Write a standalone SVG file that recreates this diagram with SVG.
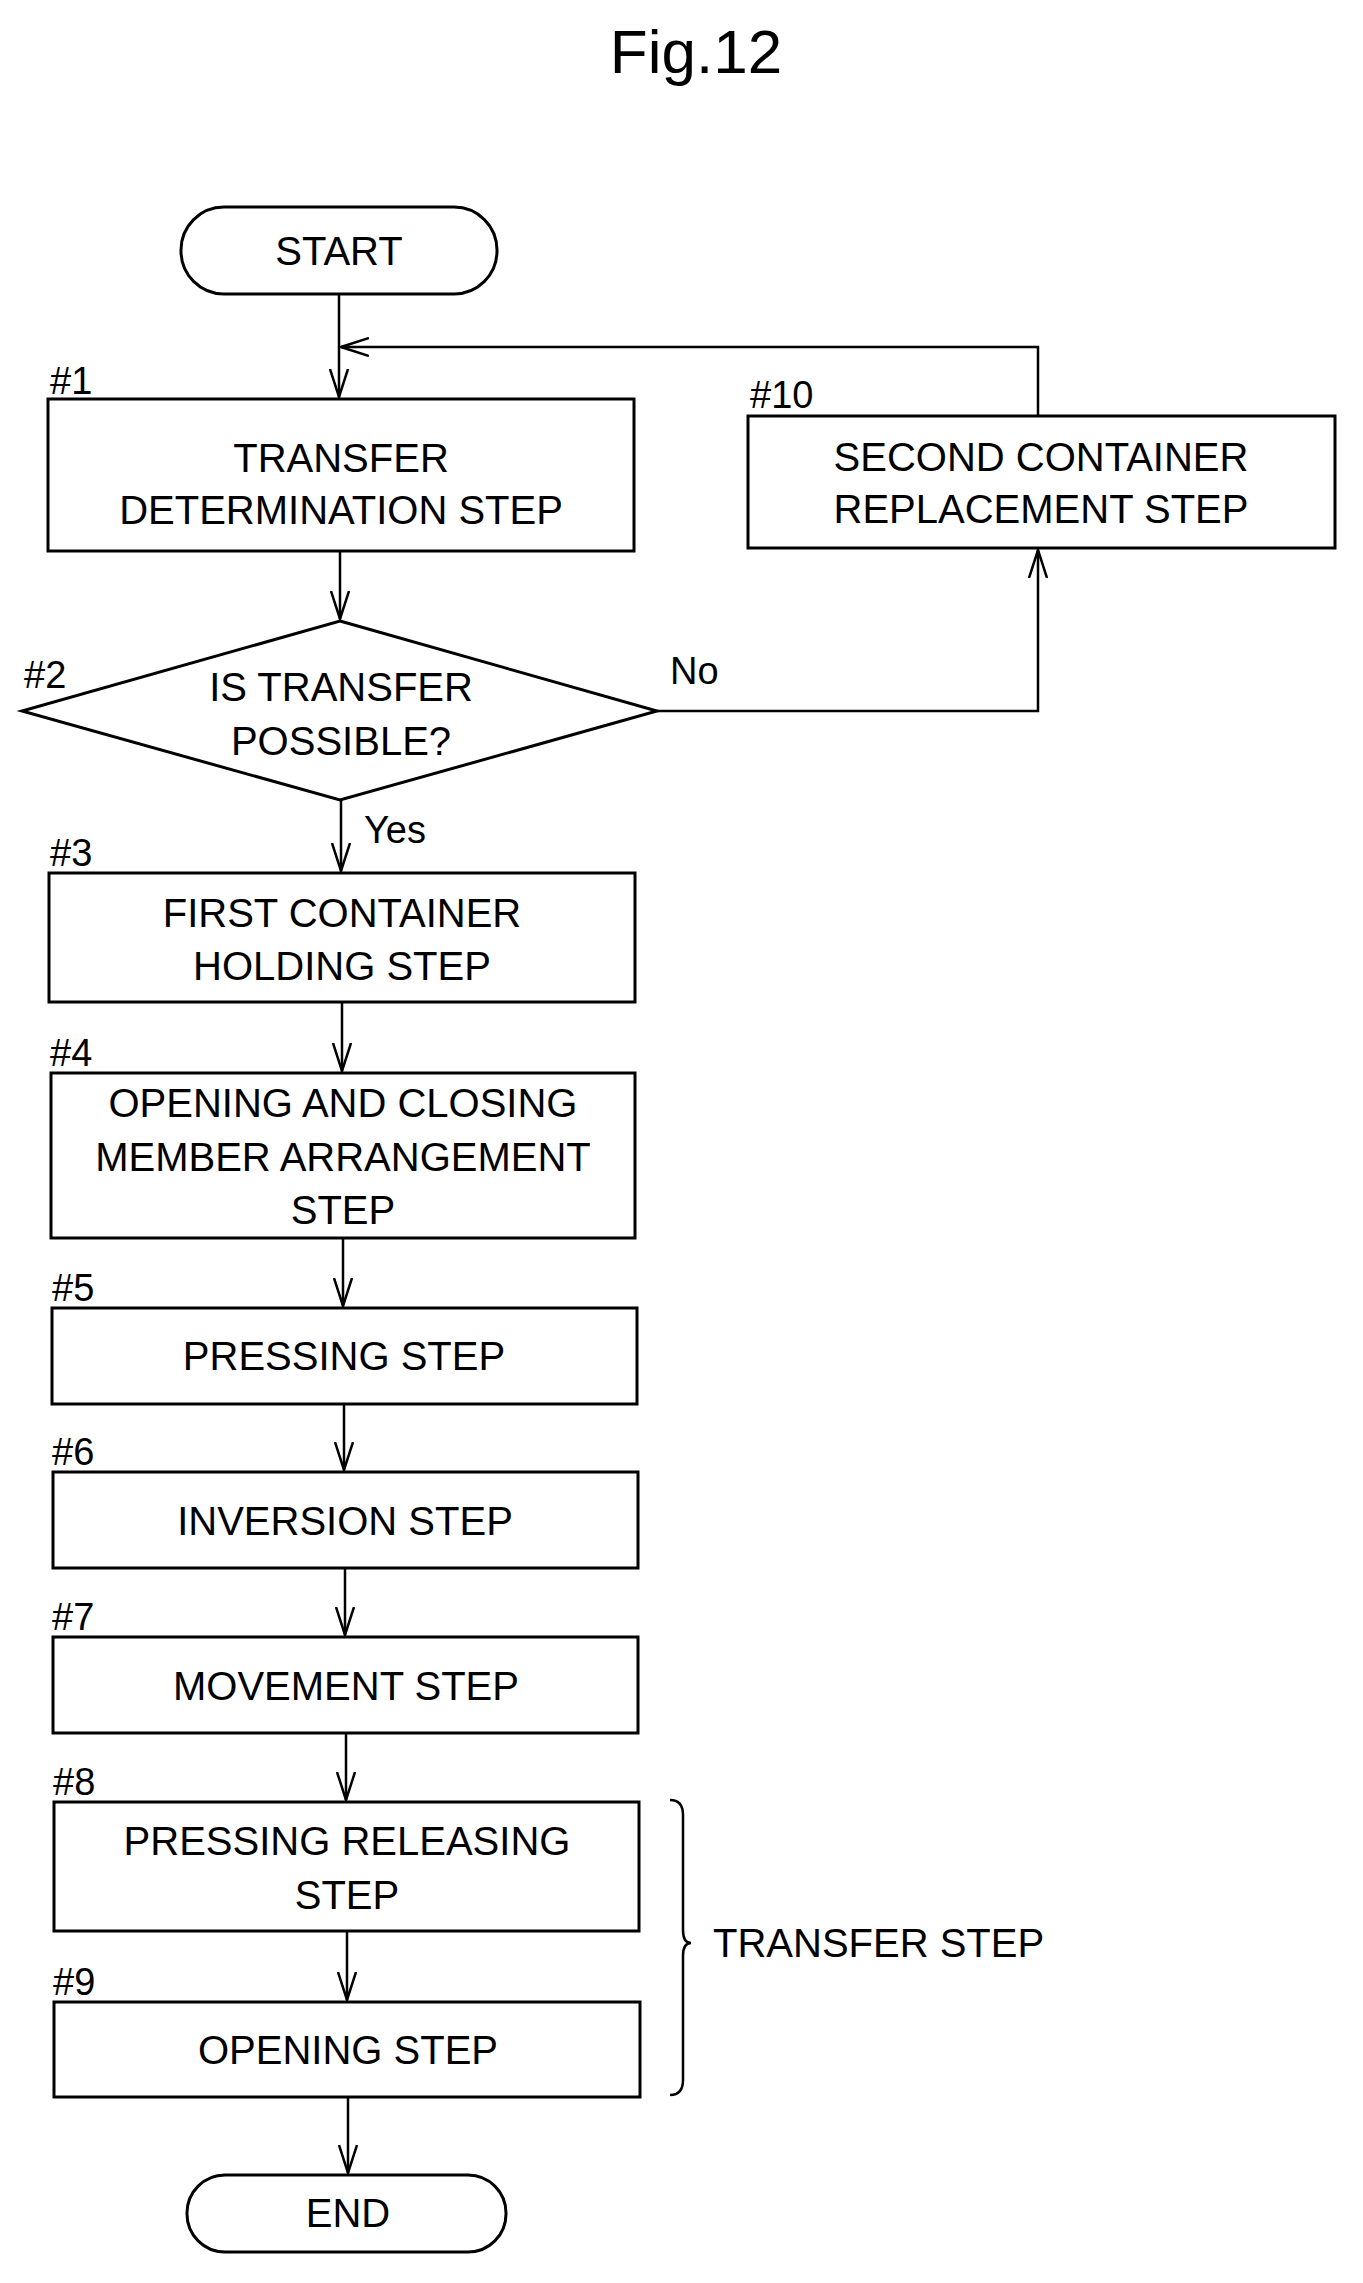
<svg xmlns="http://www.w3.org/2000/svg" width="1363" height="2283" viewBox="0 0 1363 2283">
<defs>
<marker id="a" markerWidth="30" markerHeight="20" refX="28" refY="10" orient="auto" markerUnits="userSpaceOnUse" viewBox="0 0 30 20">
<path d="M0,1 L28,10 L0,19" fill="none" stroke="#000" stroke-width="2.5"/>
</marker>
<style>
text{font-family:"Liberation Sans",Arial,sans-serif;font-size:40px;fill:#000}
.c{text-anchor:middle;dominant-baseline:central}
.n{font-size:38px}
rect,path.s,polygon{fill:#fff;stroke:#000;stroke-width:3}
.e line,.e polyline{stroke:#000;stroke-width:2.5;fill:none}
</style>
</defs>
<rect width="1363" height="2283" fill="#fff" style="stroke:none"/>
<text x="696" y="51" class="c" style="font-size:62px">Fig.12</text>
<g class="e" id="connectors">
<line x1="339" y1="294" x2="339" y2="397" marker-end="url(#a)"/>
<polyline points="1038,416 1038,347 341,347" marker-end="url(#a)"/>
<line x1="340" y1="551" x2="340" y2="619" marker-end="url(#a)"/>
<polyline points="657,711 1038,711 1038,550" marker-end="url(#a)"/>
<line x1="341" y1="800" x2="341" y2="871" marker-end="url(#a)"/>
<line x1="342" y1="1002" x2="342" y2="1071" marker-end="url(#a)"/>
<line x1="343" y1="1238" x2="343" y2="1306" marker-end="url(#a)"/>
<line x1="344" y1="1404" x2="344" y2="1470" marker-end="url(#a)"/>
<line x1="345" y1="1568" x2="345" y2="1635" marker-end="url(#a)"/>
<line x1="346" y1="1733" x2="346" y2="1800" marker-end="url(#a)"/>
<line x1="347" y1="1931" x2="347" y2="2000" marker-end="url(#a)"/>
<line x1="348" y1="2097" x2="348" y2="2173" marker-end="url(#a)"/>
<path d="M670,1800 Q683,1800 683,1815 L683,1930 Q683,1943 691,1943 Q683,1943 683,1956 L683,2080 Q683,2095 670,2095" fill="none" stroke="#000" stroke-width="2.5"/>
</g>
<g id="start"><rect x="181" y="207" width="316" height="87" rx="43" ry="43"/><text x="339" y="251" class="c">START</text></g>
<g id="s1"><text x="50" y="394" class="n">#1</text><rect x="48" y="399" width="586" height="152"/><text x="341" y="458" class="c">TRANSFER</text><text x="341" y="510" class="c">DETERMINATION STEP</text></g>
<g id="s10"><text x="750" y="408" class="n">#10</text><rect x="748" y="416" width="587" height="132"/><text x="1041" y="457" class="c">SECOND CONTAINER</text><text x="1041" y="509" class="c">REPLACEMENT STEP</text></g>
<g id="s2"><text x="24" y="688" class="n">#2</text><polygon points="340,621 657,711 340,800 22,711"/><text x="341" y="687" class="c">IS TRANSFER</text><text x="341" y="741" class="c">POSSIBLE?</text></g>
<text x="670" y="684" class="n">No</text>
<text x="364" y="843" class="n">Yes</text>
<g id="s3"><text x="50" y="866" class="n">#3</text><rect x="49" y="873" width="586" height="129"/><text x="342" y="913" class="c">FIRST CONTAINER</text><text x="342" y="966" class="c">HOLDING STEP</text></g>
<g id="s4"><text x="50" y="1066" class="n">#4</text><rect x="51" y="1073" width="584" height="165"/><text x="343" y="1103" class="c">OPENING AND CLOSING</text><text x="343" y="1157" class="c">MEMBER ARRANGEMENT</text><text x="343" y="1210" class="c">STEP</text></g>
<g id="s5"><text x="52" y="1301" class="n">#5</text><rect x="52" y="1308" width="585" height="96"/><text x="344" y="1356" class="c">PRESSING STEP</text></g>
<g id="s6"><text x="52" y="1465" class="n">#6</text><rect x="53" y="1472" width="585" height="96"/><text x="345" y="1521" class="c">INVERSION STEP</text></g>
<g id="s7"><text x="52" y="1630" class="n">#7</text><rect x="53" y="1637" width="585" height="96"/><text x="346" y="1686" class="c">MOVEMENT STEP</text></g>
<g id="s8"><text x="53" y="1795" class="n">#8</text><rect x="54" y="1802" width="585" height="129"/><text x="347" y="1841" class="c">PRESSING RELEASING</text><text x="347" y="1895" class="c">STEP</text></g>
<g id="s9"><text x="53" y="1995" class="n">#9</text><rect x="54" y="2002" width="586" height="95"/><text x="348" y="2050" class="c">OPENING STEP</text></g>
<g id="end"><rect x="187" y="2175" width="319" height="77" rx="38" ry="38"/><text x="348" y="2213" class="c">END</text></g>
<text x="713" y="1943" style="dominant-baseline:central">TRANSFER STEP</text>
</svg>
